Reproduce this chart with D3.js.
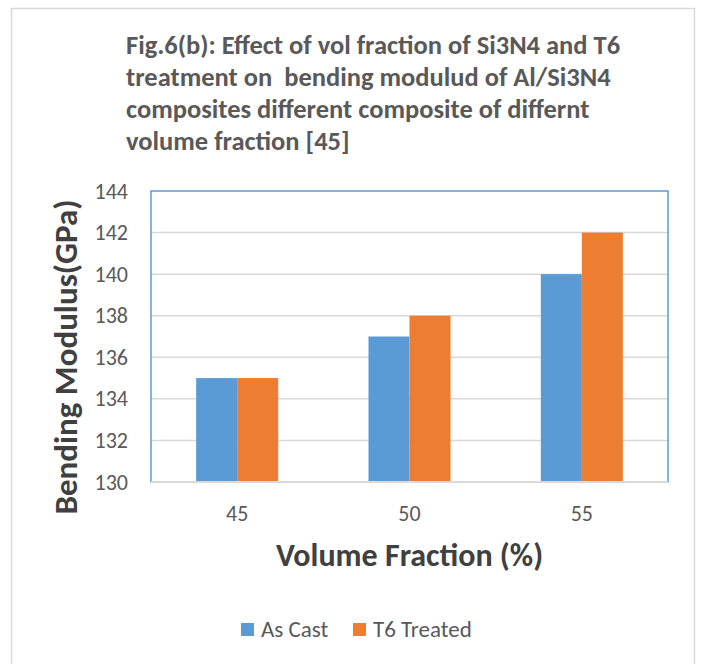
<!DOCTYPE html>
<html>
<head>
<meta charset="utf-8">
<script src="https://cdn.jsdelivr.net/npm/d3@7"></script>
<style>
  html, body { margin: 0; padding: 0; background: #fff; }
  svg { display: block; font-family: Carlito, Calibri, Lato, sans-serif; }
</style>
</head>
<body>
<svg id="chart" width="705" height="664"></svg>
<script>
// Bending modulus (GPa) per volume fraction, as-cast vs T6 treated
const categories = ["45", "50", "55"];
const seriesNames = ["As Cast", "T6 Treated"];
const asCast = [135, 137, 140];
const t6Treated = [135, 138, 142];
const yTicks = [130, 132, 134, 136, 138, 140, 142, 144];
const titleLines = [
  "Fig.6(b): Effect of vol fraction of Si3N4 and T6",
  "treatment on  bending modulud of Al/Si3N4",
  "composites different composite of differnt",
  "volume fraction [45]"
];
const colors = ["#5b9bd5", "#ed7d31"];

const rows = categories.map((c, i) => ({ cat: c, values: [asCast[i], t6Treated[i]] }));

const svg = d3.select("#chart");
const W = 705, H = 664;
const plot = { left: 151, top: 191, right: 668, bottom: 482 };
const FONT = "Carlito, Calibri, Lato, sans-serif";

// chart frame
svg.append("rect")
  .attr("x", 11.5).attr("y", 8.5)
  .attr("width", 683).attr("height", H + 10)
  .attr("fill", "#fff").attr("stroke", "#d9d9d9").attr("stroke-width", 1.5);

// title
svg.append("g").selectAll("text").data(titleLines).join("text")
  .attr("x", 126)
  .attr("y", (d, i) => 54 + i * 32)
  .attr("fill", "#595959")
  .attr("font-weight", "bold")
  .attr("font-size", 26.5)
  .style("white-space", "pre")
  .text(d => d);

const x0 = d3.scaleBand().domain(categories)
  .range([plot.left, plot.right])
  .paddingInner(0.524).paddingOuter(0.262);
const x1 = d3.scaleBand().domain(seriesNames).range([0, x0.bandwidth()]);
const y = d3.scaleLinear().domain([130, 144]).range([plot.bottom, plot.top]);

// gridlines
svg.append("g").selectAll("line").data(yTicks.slice(1, -1)).join("line")
  .attr("x1", plot.left).attr("x2", plot.right)
  .attr("y1", d => y(d)).attr("y2", d => y(d))
  .attr("stroke", "#d9d9d9").attr("stroke-width", 1.5);

// bars
svg.append("g").selectAll("g").data(rows).join("g")
  .attr("transform", d => `translate(${x0(d.cat)},0)`)
  .selectAll("rect")
  .data(d => d.values.map((v, j) => ({ name: seriesNames[j], v, j })))
  .join("rect")
  .attr("x", d => x1(d.name))
  .attr("y", d => y(d.v))
  .attr("width", x1.bandwidth())
  .attr("height", d => y(130) - y(d.v))
  .attr("fill", d => colors[d.j]);

// plot area border
svg.append("rect")
  .attr("x", plot.left).attr("y", plot.top)
  .attr("width", plot.right - plot.left).attr("height", plot.bottom - plot.top)
  .attr("fill", "none").attr("stroke", "#5b9bd5").attr("stroke-width", 1.5);

// x axis
const xAxis = svg.append("g")
  .attr("transform", `translate(0,${plot.bottom})`)
  .call(d3.axisBottom(x0).tickSize(0).tickPadding(23));
xAxis.select(".domain").attr("stroke", "#d9d9d9").attr("stroke-width", 2)
  .attr("d", `M${plot.left},0H${plot.right}`);
xAxis.selectAll("text").attr("fill", "#595959").attr("font-size", 22)
  .attr("font-family", FONT);

// y axis
const yAxis = svg.append("g")
  .attr("transform", `translate(${plot.left},0)`)
  .call(d3.axisLeft(y).tickValues(yTicks).tickSize(0).tickPadding(23));
yAxis.select(".domain").remove();
yAxis.selectAll("text").attr("fill", "#595959").attr("font-size", 22)
  .attr("font-family", FONT);

// axis titles
svg.append("text")
  .attr("x", (plot.left + plot.right) / 2).attr("y", 566)
  .attr("text-anchor", "middle")
  .attr("fill", "#404040").attr("font-weight", "bold").attr("font-size", 32)
  .text("Volume Fraction (%)");

svg.append("text")
  .attr("transform", "translate(77,357) rotate(-90)")
  .attr("text-anchor", "middle")
  .attr("fill", "#404040").attr("font-weight", "bold").attr("font-size", 33)
  .text("Bending Modulus(GPa)");

// legend
const legend = svg.append("g");
const legendX = [241, 353];
seriesNames.forEach((name, i) => {
  legend.append("rect")
    .attr("x", legendX[i]).attr("y", 623)
    .attr("width", 13).attr("height", 13)
    .attr("fill", colors[i]);
  legend.append("text")
    .attr("x", legendX[i] + 20).attr("y", 637)
    .attr("fill", "#595959").attr("font-size", 23)
    .text(name);
});
</script>
</body>
</html>
